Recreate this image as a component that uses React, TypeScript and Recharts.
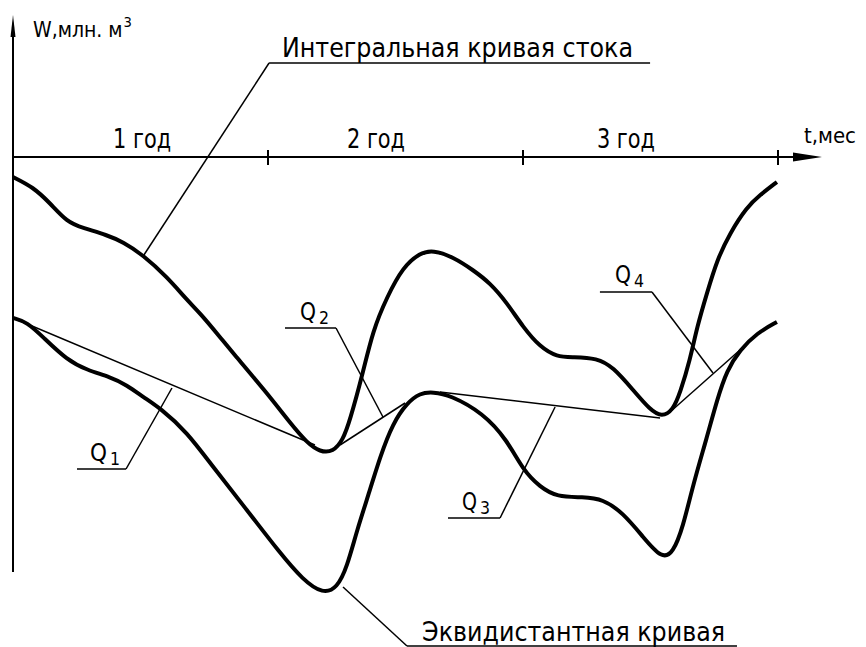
import { LineChart, Line, XAxis, YAxis, ReferenceLine, ReferenceDot } from 'recharts'

// integral runoff curve W(t): t in months, W in mln m³ (drawn below the t axis)
const integralCurve = [
  { t: 0, w: -2.0 }, { t: 0.94, w: -3.0 }, { t: 1.74, w: -4.6 }, { t: 2.54, w: -6.5 },
  { t: 3.29, w: -7.1 }, { t: 4.42, w: -7.8 }, { t: 5.18, w: -8.5 }, { t: 6.12, w: -9.8 },
  { t: 7.25, w: -12.0 }, { t: 8.19, w: -14.3 }, { t: 8.8, w: -15.6 }, { t: 9.74, w: -18.0 },
  { t: 10.35, w: -19.6 }, { t: 11.95, w: -23.6 }, { t: 13.04, w: -26.6 }, { t: 13.84, w: -28.6 },
  { t: 14.45, w: -29.5 }, { t: 15.06, w: -29.5 }, { t: 15.53, w: -28.3 }, { t: 15.86, w: -26.3 },
  { t: 16.42, w: -22.0 }, { t: 16.94, w: -17.3 }, { t: 17.6, w: -14.0 }, { t: 18.35, w: -11.0 },
  { t: 19.15, w: -9.6 }, { t: 19.76, w: -9.3 }, { t: 20.71, w: -10.0 }, { t: 21.65, w: -11.3 },
  { t: 22.45, w: -12.6 }, { t: 23.25, w: -14.6 }, { t: 24.0, w: -17.0 }, { t: 24.8, w: -19.0 },
  { t: 25.6, w: -20.0 }, { t: 26.35, w: -20.0 }, { t: 27.48, w: -20.1 }, { t: 28.24, w: -21.0 },
  { t: 29.18, w: -23.3 }, { t: 29.98, w: -25.3 }, { t: 30.54, w: -26.0 }, { t: 31.06, w: -25.3 },
  { t: 31.39, w: -23.6 }, { t: 31.86, w: -20.3 }, { t: 32.19, w: -17.0 }, { t: 32.66, w: -13.6 },
  { t: 33.13, w: -10.3 }, { t: 33.74, w: -7.6 }, { t: 34.54, w: -5.0 }, { t: 35.15, w: -3.8 },
  { t: 35.95, w: -2.5 },
]

// equidistant curve
const equidistantCurve = [
  { t: 0, w: -16.1 }, { t: 0.66, w: -16.5 }, { t: 1.41, w: -18.0 }, { t: 2.54, w: -20.3 },
  { t: 3.48, w: -21.3 }, { t: 4.56, w: -22.0 }, { t: 5.36, w: -22.8 }, { t: 6.12, w: -24.0 },
  { t: 6.92, w: -25.1 }, { t: 8.19, w: -27.5 }, { t: 9.41, w: -31.0 }, { t: 11.01, w: -35.3 },
  { t: 12.56, w: -39.6 }, { t: 13.65, w: -42.3 }, { t: 14.59, w: -43.7 }, { t: 15.25, w: -43.1 },
  { t: 15.72, w: -41.0 }, { t: 16.19, w: -37.3 }, { t: 16.8, w: -33.3 }, { t: 17.27, w: -30.0 },
  { t: 17.88, w: -26.6 }, { t: 18.54, w: -24.6 }, { t: 19.15, w: -23.6 }, { t: 19.76, w: -23.5 },
  { t: 20.56, w: -23.8 }, { t: 22.12, w: -25.6 }, { t: 23.25, w: -28.3 }, { t: 24.0, w: -31.3 },
  { t: 24.8, w: -33.0 }, { t: 25.6, w: -34.0 }, { t: 26.82, w: -34.0 }, { t: 27.76, w: -34.2 },
  { t: 28.71, w: -35.6 }, { t: 29.65, w: -38.0 }, { t: 30.54, w: -40.2 }, { t: 31.06, w: -39.6 },
  { t: 31.53, w: -37.0 }, { t: 32.0, w: -32.8 }, { t: 32.66, w: -28.0 }, { t: 33.13, w: -24.3 },
  { t: 33.6, w: -21.3 }, { t: 34.21, w: -19.3 }, { t: 35.01, w: -17.6 }, { t: 35.95, w: -16.5 },
]

// tangent lines Q1..Q4 between the two curves
const tangentLines = [
  [{ t: 0, w: -16.1 }, { t: 14.21, w: -28.8 }],
  [{ t: 15.39, w: -28.8 }, { t: 18.45, w: -24.6 }],
  [{ t: 20.09, w: -23.5 }, { t: 30.45, w: -26.1 }],
  [{ t: 30.92, w: -25.5 }, { t: 34.21, w: -19.3 }],
]

const yearTicks = [12, 24, 36]
const yearLabels = ['1 год', '2 год', '3 год']
const yearLabelStarts = [4.71, 15.72, 27.48]

type Pt = { t: number; w: number }

// callouts: leader polyline (from the mark to the shelf) and caption
const callouts: { text: string; sub?: string; at: Pt; width: number; leader: Pt[] }[] = [
  {
    text: 'Интегральная кривая стока', at: { t: 12.66, w: 10.0 }, width: 351,
    leader: [{ t: 6.16, w: -9.8 }, { t: 12.05, w: 9.4 }, { t: 29.98, w: 9.4 }],
  },
  {
    text: 'Q', sub: '1', at: { t: 3.62, w: -30.4 }, width: 17,
    leader: [{ t: 7.48, w: -23.1 }, { t: 5.32, w: -31.2 }, { t: 3.01, w: -31.2 }],
  },
  {
    text: 'Q', sub: '2', at: { t: 13.5, w: -16.3 }, width: 16,
    leader: [{ t: 17.41, w: -26.0 }, { t: 15.2, w: -17.1 }, { t: 12.8, w: -17.1 }],
  },
  {
    text: 'Q', sub: '3', at: { t: 21.13, w: -35.3 }, width: 15,
    leader: [{ t: 25.51, w: -25.0 }, { t: 22.92, w: -36.1 }, { t: 20.47, w: -36.1 }],
  },
  {
    text: 'Q', sub: '4', at: { t: 28.33, w: -12.6 }, width: 16,
    leader: [{ t: 32.94, w: -21.6 }, { t: 30.07, w: -13.5 }, { t: 27.62, w: -13.5 }],
  },
  {
    text: 'Эквидистантная кривая', at: { t: 19.25, w: -48.4 }, width: 303,
    leader: [{ t: 15.53, w: -43.0 }, { t: 18.54, w: -48.9 }, { t: 34.07, w: -48.9 }],
  },
]

const FONT = "'DejaVu Sans Condensed', 'Liberation Sans Narrow', 'DejaVu Sans', sans-serif"
const INK = '#000'

// caption anchored at its left baseline; an index, if any, is set as its own text after it
const caption = (text: string, width: number, size = 27, sub?: string) => (p: any) => (
  <g>
    <text x={p.cx} y={p.cy} fontFamily={FONT} fontSize={size} fill={INK} textLength={width} lengthAdjust="spacingAndGlyphs">
      {text}
    </text>
    {sub && (
      <text x={p.cx + width + 3} y={p.cy + 4} fontFamily={FONT} fontSize={size * 0.7} fill={INK}>
        {sub}
      </text>
    )}
  </g>
)

// plain label with natural spacing, optional raised index in the same text
const plainLabel = (text: string, size: number, sup?: string) => (p: any) => (
  <text x={p.cx} y={p.cy} fontFamily={FONT} fontSize={size} fill={INK}>
    {text}
    {sup && (
      <tspan fontSize={size * 0.7} dy={-10} dx={1}>
        {sup}
      </tspan>
    )}
  </text>
)

const arrowRight = (p: any) => (
  <path d={`M${p.cx},${p.cy} L${p.cx - 29},${p.cy - 4.5} L${p.cx - 29},${p.cy + 4.5} Z`} fill={INK} />
)
const arrowUp = (p: any) => (
  <path d={`M${p.cx},${p.cy} L${p.cx - 2.5},${p.cy + 22} L${p.cx + 2.5},${p.cy + 22} Z`} fill={INK} />
)

function segments(pts: Pt[]) {
  return pts.slice(1).map((p, i) => [
    { x: pts[i].t, y: pts[i].w },
    { x: p.t, y: p.w },
  ])
}

export default function App() {
  return (
    <div style={{ position: 'absolute', left: 0, top: 0, background: '#fff' }}>
      <LineChart width={866} height={647} margin={{ top: 17, right: 88, bottom: 50, left: 13 }}>
        <XAxis type="number" dataKey="t" domain={[0, 36]} allowDataOverflow hide />
        <YAxis type="number" dataKey="w" domain={[-44, 14]} allowDataOverflow hide />

        {/* axes */}
        <ReferenceLine segment={[{ x: 0, y: 0 }, { x: 37.5, y: 0 }]} stroke={INK} strokeWidth={2} ifOverflow="visible" />
        <ReferenceLine segment={[{ x: 0, y: 13 }, { x: 0, y: -41.5 }]} stroke={INK} strokeWidth={2} ifOverflow="visible" />
        <ReferenceDot x={38.07} y={0} r={0} shape={arrowRight} ifOverflow="visible" />
        <ReferenceDot x={0} y={14.2} r={0} shape={arrowUp} ifOverflow="visible" />
        {yearTicks.map((t) => (
          <ReferenceLine key={t} segment={[{ x: t, y: 0.7 }, { x: t, y: -0.8 }]} stroke={INK} strokeWidth={2} ifOverflow="visible" />
        ))}
        {yearLabels.map((label, i) => (
          <ReferenceDot key={label} x={yearLabelStarts[i]} y={0.9} r={0} shape={caption(label, 58)} ifOverflow="visible" />
        ))}
        <ReferenceDot x={37.22} y={1.4} r={0} shape={plainLabel('t,мес', 22)} ifOverflow="visible" />
        <ReferenceDot x={0.94} y={12.0} r={0} shape={plainLabel('W,млн. м', 21, '3')} ifOverflow="visible" />

        {/* tangents and leaders */}
        {tangentLines.map((seg, i) => (
          <ReferenceLine key={`q${i}`} segment={segments(seg)[0]} stroke={INK} strokeWidth={1.5} ifOverflow="visible" />
        ))}
        {callouts.flatMap((c, i) =>
          segments(c.leader).map((s, j) => (
            <ReferenceLine key={`l${i}-${j}`} segment={s} stroke={INK} strokeWidth={1.5} ifOverflow="visible" />
          ))
        )}
        {callouts.map((c) => (
          <ReferenceDot
            key={c.text + (c.sub ?? '')}
            x={c.at.t}
            y={c.at.w}
            r={0}
            ifOverflow="visible"
            shape={caption(c.text, c.width, c.sub ? 25 : 27, c.sub)}
          />
        ))}

        <Line data={integralCurve} dataKey="w" type="basis" stroke={INK} strokeWidth={4} dot={false} isAnimationActive={false} />
        <Line data={equidistantCurve} dataKey="w" type="basis" stroke={INK} strokeWidth={4} dot={false} isAnimationActive={false} />
      </LineChart>
    </div>
  )
}
